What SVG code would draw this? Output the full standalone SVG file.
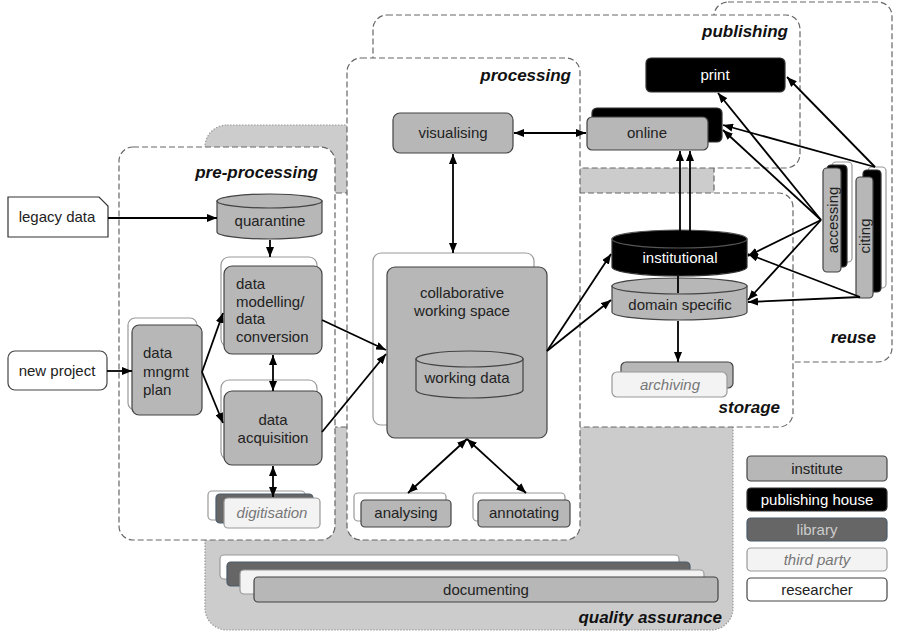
<svg xmlns="http://www.w3.org/2000/svg" width="900" height="638" viewBox="0 0 900 638">
<defs>
<style>
text{font-family:"Liberation Sans",Arial,sans-serif;font-size:15px;fill:#222}
.sec{font-weight:bold;font-style:italic;font-size:17px;fill:#111;text-anchor:end}
.c{text-anchor:middle}
.box{fill:none;stroke:#666;stroke-width:1.2;stroke-dasharray:6,3}
.wbox{fill:#fff;stroke:#666;stroke-width:1.2;stroke-dasharray:6,3}
.inst{fill:#b7b7b7;stroke:#434343;stroke-width:1.2}
.pub{fill:#000;stroke:#333;stroke-width:1.2}
.lib{fill:#666;stroke:#4a5a6a;stroke-width:1.2}
.third{fill:#f3f3f3;stroke:#999;stroke-width:1.2}
.res{fill:#fff;stroke:#444;stroke-width:1.2}
.back{fill:#fff;stroke:#999;stroke-width:1.2}
.wt{fill:#fff}
.lt{fill:#ccc}
.it{font-style:italic;fill:#777}
.ln{fill:none;stroke:#000;stroke-width:1.8}
</style>
<marker id="ah" viewBox="0 0 10 8" refX="10" refY="4" markerWidth="10" markerHeight="8" markerUnits="userSpaceOnUse" orient="auto-start-reverse">
<path d="M0,0 L10,4 L0,8 Z" fill="#000"/>
</marker>
</defs>
<rect width="900" height="638" fill="#fff"/>

<g id="quality-assurance">
<rect x="205" y="125" width="528" height="505" rx="22" fill="#cccccc" stroke="#999" stroke-width="1.2" stroke-dasharray="1.5,1.5"/>
</g>
<g id="reuse">
<rect class="wbox" x="714" y="2" width="178" height="360" rx="14"/>
</g>
<g id="storage">
<rect class="wbox" x="250" y="193" width="543" height="234" rx="14"/>
</g>
<g id="publishing">
<rect class="wbox" x="373" y="15" width="427" height="153" rx="14"/>
</g>
<g id="processing">
<rect class="wbox" x="347" y="58" width="233" height="482" rx="14"/>
</g>
<g id="pre-processing">
<rect class="wbox" x="119" y="147" width="216" height="393" rx="14"/>
</g>

<g id="section-labels">
<text class="sec" x="318" y="178">pre-processing</text>
<text class="sec" x="571" y="81">processing</text>
<text class="sec" x="788" y="37">publishing</text>
<text class="sec" x="876" y="343">reuse</text>
<text class="sec" x="780" y="413">storage</text>
<text class="sec" x="722" y="623">quality assurance</text>
</g>

<g id="legacy-data">
<path d="M8,197 H99 L108,206 V237 H8 Z" fill="#fff" stroke="#333" stroke-width="1.2"/>
<text class="c" x="57" y="222">legacy data</text>
</g>
<g id="new-project">
<rect class="res" x="8" y="351" width="99" height="39" rx="7"/>
<text class="c" x="57" y="376">new project</text>
</g>
<g id="quarantine">
<path class="inst" d="M217,201 V232 A52.5,7 0 0 0 322,232 V201 Z"/>
<ellipse class="inst" cx="269.5" cy="201" rx="52.5" ry="7"/>
<text class="c" x="270" y="226">quarantine</text>
</g>
<g id="data-modelling">
<rect class="back" x="221" y="257" width="96" height="90" rx="8"/>
<rect class="inst" x="224" y="266" width="98" height="88" rx="8"/>
<text x="236" y="289">data</text>
<text x="236" y="307">modelling/</text>
<text x="236" y="324">data</text>
<text x="236" y="342">conversion</text>
</g>
<g id="data-mngmt-plan">
<rect class="back" x="128" y="318" width="69" height="92" rx="7"/>
<rect class="inst" x="132" y="325" width="70" height="90" rx="7"/>
<text x="143" y="358">data</text>
<text x="143" y="377">mngmt</text>
<text x="143" y="395">plan</text>
</g>
<g id="data-acquisition">
<rect class="back" x="221" y="380" width="96" height="80" rx="8"/>
<rect class="inst" x="224" y="391" width="98" height="74" rx="8"/>
<text class="c" x="273" y="425">data</text>
<text class="c" x="273" y="443">acquisition</text>
</g>
<g id="digitisation">
<rect class="back" x="208" y="491" width="97" height="29" rx="4"/>
<rect class="lib" x="216" y="494" width="97" height="29" rx="4"/>
<rect class="third" x="224" y="498" width="96" height="30" rx="4"/>
<text class="c it" x="272" y="518">digitisation</text>
</g>
<g id="visualising">
<rect class="inst" x="393" y="113" width="120" height="40" rx="7"/>
<text class="c" x="453" y="138">visualising</text>
</g>
<g id="collaborative-working-space">
<rect class="back" x="373" y="253" width="161" height="172" rx="8"/>
<rect class="inst" x="387" y="267" width="160" height="171" rx="8"/>
<text class="c" x="462" y="298">collaborative</text>
<text class="c" x="462" y="316">working space</text>
</g>
<g id="working-data">
<path class="inst" d="M416,359 V390 A53.5,8 0 0 0 523,390 V359 Z"/>
<ellipse class="inst" cx="469.5" cy="359" rx="53.5" ry="8"/>
<text class="c" x="467" y="383">working data</text>
</g>
<g id="analysing">
<rect class="back" x="354" y="493" width="92" height="28" rx="4"/>
<rect class="inst" x="361" y="500" width="90" height="27" rx="4"/>
<text class="c" x="406" y="518">analysing</text>
</g>
<g id="annotating">
<rect class="back" x="473" y="493" width="92" height="28" rx="4"/>
<rect class="inst" x="478" y="500" width="92" height="27" rx="4"/>
<text class="c" x="524" y="518">annotating</text>
</g>
<g id="print">
<rect class="pub" x="646" y="58" width="139" height="34" rx="5"/>
<text class="c wt" x="715" y="80">print</text>
</g>
<g id="online">
<rect class="pub" x="592" y="108" width="130" height="34" rx="5"/>
<rect class="inst" x="587" y="117" width="121" height="33" rx="5"/>
<text class="c" x="647" y="138">online</text>
</g>
<g id="institutional">
<path class="pub" d="M612,239 V267 A67.5,9 0 0 0 747,267 V239 Z"/>
<ellipse cx="679.5" cy="239" rx="67.5" ry="9" fill="#000" stroke="#555" stroke-width="1.2"/>
<text class="c wt" x="680" y="263">institutional</text>
</g>
<g id="domain-specific">
<path class="inst" d="M612,286 V312 A67.5,8 0 0 0 747,312 V286 Z"/>
<ellipse class="inst" cx="679.5" cy="286" rx="67.5" ry="8"/>
<text class="c" x="680" y="310">domain specific</text>
</g>
<g id="archiving">
<rect class="inst" x="621" y="362" width="112" height="26" rx="5"/>
<rect class="third" x="612" y="372" width="115" height="25" rx="5"/>
<text class="c it" x="670" y="390">archiving</text>
</g>
<g id="accessing">
<rect class="back" x="832" y="162" width="20" height="100" rx="4"/>
<rect class="pub" x="827" y="165" width="20" height="102" rx="4"/>
<rect class="inst" x="823" y="168" width="18" height="104" rx="4"/>
<text class="c" transform="translate(838,220) rotate(-90)">accessing</text>
</g>
<g id="citing">
<rect class="back" x="868" y="167" width="18" height="121" rx="4"/>
<rect class="pub" x="863" y="170" width="18" height="122" rx="4"/>
<rect class="inst" x="856" y="177" width="17" height="121" rx="4"/>
<text class="c" transform="translate(870,236) rotate(-90)">citing</text>
</g>
<g id="documenting">
<rect class="back" x="220" y="555" width="459" height="24" rx="4"/>
<rect class="lib" x="227" y="562" width="463" height="24" rx="4"/>
<rect class="third" x="240" y="570" width="464" height="24" rx="4"/>
<rect class="inst" x="254" y="577" width="464" height="25" rx="4"/>
<text class="c" x="486" y="595">documenting</text>
</g>

<g id="legend">
<rect class="inst" x="747" y="456" width="140" height="25" rx="4"/>
<text class="c" x="817" y="474">institute</text>
<rect class="pub" x="747" y="488" width="140" height="23" rx="4"/>
<text class="c wt" x="817" y="505">publishing house</text>
<rect class="lib" x="747" y="518" width="140" height="23" rx="4"/>
<text class="c lt" x="817" y="535">library</text>
<rect class="third" x="747" y="548" width="140" height="23" rx="4"/>
<text class="c it" x="817" y="565">third party</text>
<rect class="res" x="747" y="578" width="140" height="23" rx="4"/>
<text class="c" x="817" y="595">researcher</text>
</g>

<g id="connectors" class="ln">
<line class="ln" x1="108" y1="218" x2="217" y2="218" marker-end="url(#ah)"/>
<line class="ln" x1="270" y1="240" x2="270" y2="257" marker-end="url(#ah)"/>
<line class="ln" x1="107" y1="371" x2="132" y2="371" marker-end="url(#ah)"/>
<line class="ln" x1="202" y1="372" x2="223" y2="313" marker-end="url(#ah)"/>
<line class="ln" x1="202" y1="372" x2="223" y2="423" marker-end="url(#ah)"/>
<line class="ln" x1="273" y1="355" x2="273" y2="391" marker-start="url(#ah)" marker-end="url(#ah)"/>
<line class="ln" x1="273" y1="466" x2="273" y2="497" marker-start="url(#ah)" marker-end="url(#ah)"/>
<line class="ln" x1="322" y1="320" x2="386" y2="350" marker-end="url(#ah)"/>
<line class="ln" x1="322" y1="432" x2="386" y2="354" marker-end="url(#ah)"/>
<line class="ln" x1="514" y1="133" x2="586" y2="133" marker-start="url(#ah)" marker-end="url(#ah)"/>
<line class="ln" x1="453" y1="154" x2="453" y2="253" marker-start="url(#ah)" marker-end="url(#ah)"/>
<line class="ln" x1="467" y1="439" x2="408" y2="493" marker-start="url(#ah)" marker-end="url(#ah)"/>
<line class="ln" x1="467" y1="439" x2="526" y2="493" marker-start="url(#ah)" marker-end="url(#ah)"/>
<line class="ln" x1="547" y1="351" x2="611" y2="254" marker-end="url(#ah)"/>
<line class="ln" x1="547" y1="351" x2="611" y2="300" marker-end="url(#ah)"/>
<line class="ln" x1="680" y1="231" x2="680" y2="151" marker-end="url(#ah)"/>
<line class="ln" x1="690" y1="231" x2="690" y2="151" marker-end="url(#ah)"/>
<line class="ln" x1="678" y1="276" x2="678" y2="293"/>
<line class="ln" x1="678" y1="321" x2="678" y2="362" marker-end="url(#ah)"/>
<line class="ln" x1="821" y1="220" x2="718" y2="93" marker-end="url(#ah)"/>
<line class="ln" x1="821" y1="220" x2="723" y2="130" marker-end="url(#ah)"/>
<line class="ln" x1="821" y1="220" x2="748" y2="256" marker-end="url(#ah)"/>
<line class="ln" x1="821" y1="220" x2="748" y2="300" marker-end="url(#ah)"/>
<line class="ln" x1="875" y1="167" x2="787" y2="77" marker-end="url(#ah)"/>
<line class="ln" x1="875" y1="167" x2="723" y2="125" marker-end="url(#ah)"/>
<line class="ln" x1="860" y1="297" x2="748" y2="254" marker-end="url(#ah)"/>
<line class="ln" x1="860" y1="297" x2="748" y2="302" marker-end="url(#ah)"/>
</g>
</svg>
